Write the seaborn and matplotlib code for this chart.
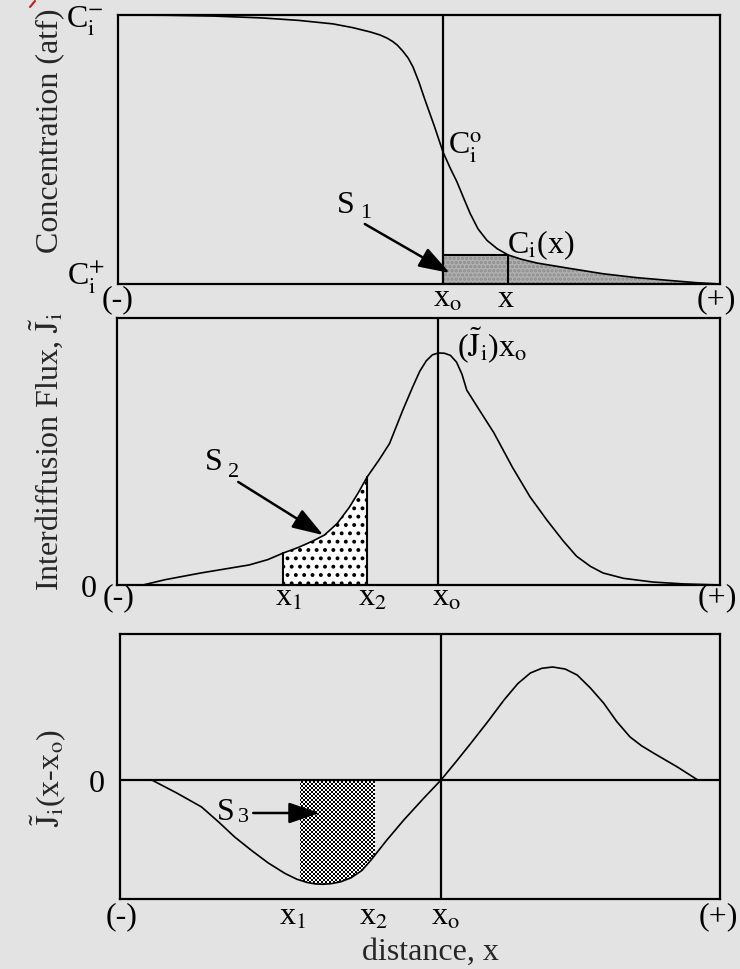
import numpy as np
import pandas as pd
import matplotlib
matplotlib.use("Agg")
import matplotlib.pyplot as plt
import seaborn as sns
from matplotlib.lines import Line2D

# ---------------- data ----------------
conc_x = [0, 8, 16, 24, 30, 35.7, 39, 41.9, 43.5, 44.7, 45.6, 46.4, 47.3, 48.2, 49, 50, 51,
          52.5, 54, 55.2, 56.3, 57.5, 58.5, 59.8, 61.3, 63, 64.8, 67, 69.6, 75, 80.6, 86,
          91.7, 96, 100]
conc_y = [1.0, 0.999, 0.996, 0.989, 0.98, 0.967, 0.953, 0.937, 0.926, 0.914, 0.902, 0.888,
          0.866, 0.84, 0.807, 0.75, 0.684, 0.59, 0.49, 0.43, 0.38, 0.315, 0.262, 0.205,
          0.162, 0.131, 0.108, 0.092, 0.078, 0.058, 0.038, 0.024, 0.013, 0.005, 0.0]

flux_x = [4.3, 8, 13.9, 21.9, 25, 27.6, 30, 32.5, 34.4, 36.5, 38.5, 40, 41.5, 43.5, 45.2,
          47.4, 49, 50.2, 51.3, 52.3, 53.3, 54.3, 55.3, 56.3, 57.2, 58, 60.1, 62.5, 65.6,
          68.5, 71.3, 74, 76.2, 78.5, 80.6, 84, 88.9, 94, 100]
flux_y = [0, 0.02, 0.045, 0.075, 0.095, 0.12, 0.14, 0.165, 0.187, 0.23, 0.29, 0.345, 0.405,
          0.47, 0.53, 0.655, 0.74, 0.8, 0.84, 0.862, 0.869, 0.868, 0.86, 0.835, 0.79, 0.73,
          0.655, 0.57, 0.44, 0.33, 0.243, 0.165, 0.108, 0.07, 0.045, 0.025, 0.011, 0.004, 0.0]

mom_x = [5.3, 9.5, 13.6, 16.5, 19.1, 22, 24.7, 27.5, 29.5, 31.2, 32.6, 33.8, 35.2, 36.8,
         38.5, 40.3, 41.9, 44.5, 47.3, 50.5, 53.5, 56, 58.5, 61.3, 64, 66.3, 68.4, 70.3,
         72.1, 74.2, 76.2, 78.4, 80.6, 82.8, 85, 86.9, 88.9, 92.9, 96.3]
mom_y = [0, -0.09, -0.185, -0.29, -0.39, -0.485, -0.568, -0.64, -0.68, -0.702, -0.712,
         -0.714, -0.71, -0.697, -0.67, -0.62, -0.545, -0.41, -0.274, -0.13, 0, 0.125, 0.253,
         0.40, 0.548, 0.66, 0.733, 0.765, 0.774, 0.76, 0.719, 0.63, 0.527, 0.40, 0.295,
         0.235, 0.185, 0.089, 0.0]

x_o_top, x_pos = 54.0, 64.8
x_o_mid, x1_mid, x2_mid = 53.3, 27.6, 41.5
x_o_bot, x1_bot, x2_bot = 53.5, 30.0, 42.5

# ---------------- style ----------------
sns.set_theme(style="white")
plt.rcParams["font.family"] = ["Liberation Serif", "DejaVu Serif"]
plt.rcParams["mathtext.fontset"] = "stix"
plt.rcParams["hatch.linewidth"] = 1.6

BG = "#e3e3e3"
FS = 23
SUB = 16
W, H = 740, 969
fig = plt.figure(figsize=(W / 100, H / 100), dpi=100, facecolor=BG)


def make_ax(left, top, right, bottom):
    ax = fig.add_axes([left / W, 1 - bottom / H, (right - left) / W, (bottom - top) / H])
    ax.set_facecolor("none")
    for s in ax.spines.values():
        s.set_visible(True)
        s.set_linewidth(1.6)
        s.set_color("black")
    ax.set_xticks([])
    ax.set_yticks([])
    ax.set_xlim(0, 100)
    return ax


def lbl(ax, x, y, s, size=FS, **kw):
    ax.text(x, y, s, fontsize=size, clip_on=False, color="black", **kw)


arrow_kw = dict(arrowstyle="-|>,head_length=0.95,head_width=0.32", mutation_scale=20,
                color="black", lw=1.8, shrinkA=0, shrinkB=0)

# ================= top panel: concentration =================
ax1 = make_ax(118, 15, 720, 284)
ax1.set_ylim(0, 1)
df1 = pd.DataFrame({"x": conc_x, "c": conc_y})
sns.lineplot(data=df1, x="x", y="c", ax=ax1, color="black", lw=1.2, estimator=None, sort=False)
ax1.set_xlabel(""); ax1.set_ylabel("")

cx = np.array(conc_x); cy = np.array(conc_y)
c_at_x = np.interp(x_pos, cx, cy)
xs = np.concatenate([[x_o_top], cx[(cx > x_o_top)]])
xs = np.insert(xs, np.searchsorted(xs, x_pos), x_pos)
ys = np.minimum(np.interp(xs, cx, cy), c_at_x)
ax1.fill_between(xs, 0, ys, facecolor="#b1b1b1", edgecolor="#8c8c8c", hatch="....", lw=0)
ax1.plot([x_o_top, x_pos], [c_at_x, c_at_x], color="black", lw=1.5)
ax1.plot([x_pos, x_pos], [0, c_at_x], color="black", lw=1.5)
ax1.axvline(x_o_top, color="black", lw=1.6)

lbl(ax1, -2.4, 0.975, r"C$_\mathrm{i}^{-}$", ha="right", va="center")
lbl(ax1, -2.2, 0.025, r"C$_\mathrm{i}^{+}$", ha="right", va="center")
lbl(ax1, 54.8, 0.507, r"C$_\mathrm{i}^\mathrm{o}$", ha="left", va="center")
lbl(ax1, 64.6, 0.115, r"C$_\mathrm{i}$(x)", ha="left", va="baseline")
for xv, s in [(0, "(-)"), (54.8, r"x$_\mathrm{o}$"), (64.4, "x"), (99.4, "(+)")]:
    lbl(ax1, xv, -0.086, s, ha="center", va="baseline")
lbl(ax1, 36.3, 0.264, "S", ha="left", va="baseline")
lbl(ax1, 40.3, 0.245, "1", size=SUB, ha="left", va="baseline")
ax1.annotate("", xy=(55.1, 0.041), xytext=(41.0, 0.223), arrowprops=arrow_kw)

# ================= middle panel: flux =================
ax2 = make_ax(117, 318, 720, 585)
ax2.set_ylim(0, 1)
df2 = pd.DataFrame({"x": flux_x, "j": flux_y})
sns.lineplot(data=df2, x="x", y="j", ax=ax2, color="black", lw=1.2, estimator=None, sort=False)
ax2.set_xlabel(""); ax2.set_ylabel("")

fx = np.array(flux_x); fy = np.array(flux_y)
sx = np.concatenate([[x1_mid], fx[(fx > x1_mid) & (fx < x2_mid)], [x2_mid]])
sy = np.interp(sx, fx, fy)
ax2.fill_between(sx, 0, sy, facecolor="white", edgecolor="black", hatch="..", lw=0)
ax2.plot([x1_mid, x1_mid], [0, sy[0]], color="black", lw=1.5)
ax2.plot([x2_mid, x2_mid], [0, sy[-1]], color="black", lw=1.5)
ax2.axvline(x_o_mid, color="black", lw=1.6)

lbl(ax2, -3.3, -0.045, "0", ha="right", va="baseline")
for xv, s in [(0.2, "(-)"), (28.4, r"x$_\mathrm{1}$"), (42.4, r"x$_\mathrm{2}$"),
              (54.6, r"x$_\mathrm{o}$"), (99.5, "(+)")]:
    lbl(ax2, xv, -0.077, s, ha="center", va="baseline")
lbl(ax2, 56.4, 0.852, r"($\tilde{\mathrm{J}}_\mathrm{i}$)x$_\mathrm{o}$", ha="left", va="baseline")
lbl(ax2, 14.6, 0.431, "S", ha="left", va="baseline")
lbl(ax2, 18.4, 0.404, "2", size=SUB, ha="left", va="baseline")
ax2.annotate("", xy=(34.2, 0.187), xytext=(20.1, 0.386), arrowprops=arrow_kw)

# ================= bottom panel: J(x - x0) =================
ax3 = make_ax(120, 634, 720, 899)
ax3.set_ylim(-119 / 146, 1)
df3 = pd.DataFrame({"x": mom_x, "m": mom_y})
sns.lineplot(data=df3, x="x", y="m", ax=ax3, color="black", lw=1.2, estimator=None, sort=False)
ax3.set_xlabel(""); ax3.set_ylabel("")

mx = np.array(mom_x); my = np.array(mom_y)
bx = np.concatenate([[x1_bot], mx[(mx > x1_bot) & (mx < x2_bot)], [x2_bot]])
by = np.interp(bx, mx, my)
poly = ax3.fill_between(bx, 0, by, facecolor="none", edgecolor="none", lw=0)
ncol, nrow = 40, 60
y0 = by.min() - 0.03
checker = (np.add.outer(np.arange(nrow), np.arange(ncol)) % 2).astype(float)
im = ax3.imshow(checker, cmap="gray", extent=[x1_bot - 0.2, x1_bot - 0.2 + ncol * 2 / 6.0, y0,
                y0 + nrow * 2 / 146], origin="lower", interpolation="nearest",
                aspect="auto", zorder=1)
im.set_clip_path(poly.get_paths()[0], transform=ax3.transData)
ax3.set_xlim(0, 100)
ax3.set_ylim(-119 / 146, 1)
ax3.axhline(0, color="black", lw=1.6)
ax3.axvline(x_o_bot, color="black", lw=1.6)

lbl(ax3, -2.5, -0.082, "0", ha="right", va="baseline")
for xv, s in [(0.3, "(-)"), (28.7, r"x$_\mathrm{1}$"), (42.2, r"x$_\mathrm{2}$"),
              (54.3, r"x$_\mathrm{o}$"), (99.7, "(+)")]:
    lbl(ax3, xv, -0.99, s, ha="center", va="baseline")
lbl(ax3, 16.1, -0.274, "S", ha="left", va="baseline")
lbl(ax3, 19.7, -0.288, "3", size=SUB, ha="left", va="baseline")
ax3.annotate("", xy=(33.3, -0.226), xytext=(22.2, -0.226), arrowprops=arrow_kw)

# ---------------- axis titles ----------------
fig.text(50 / W, 1 - 131 / H, "Concentration (atf)", rotation=90, ha="center", va="center",
         fontsize=FS)
fig.text(46 / W, 1 - 452 / H, r"Interdiffusion Flux, $\tilde{\mathrm{J}}_\mathrm{i}$", rotation=90,
         ha="center", va="center", fontsize=FS)
fig.text(49 / W, 1 - 778 / H, r"$\tilde{\mathrm{J}}_\mathrm{i}$(x-x$_\mathrm{o}$)", rotation=90,
         ha="center", va="center", fontsize=FS)
fig.text(430 / W, 1 - 960 / H, "distance, x", ha="center", va="baseline", fontsize=FS)

fig.add_artist(Line2D([30 / W, 35 / W], [1 - 7 / H, 1 - 1 / H], color="#c0201a", lw=1.5))

fig.savefig("out.png", dpi=100, facecolor=BG)
